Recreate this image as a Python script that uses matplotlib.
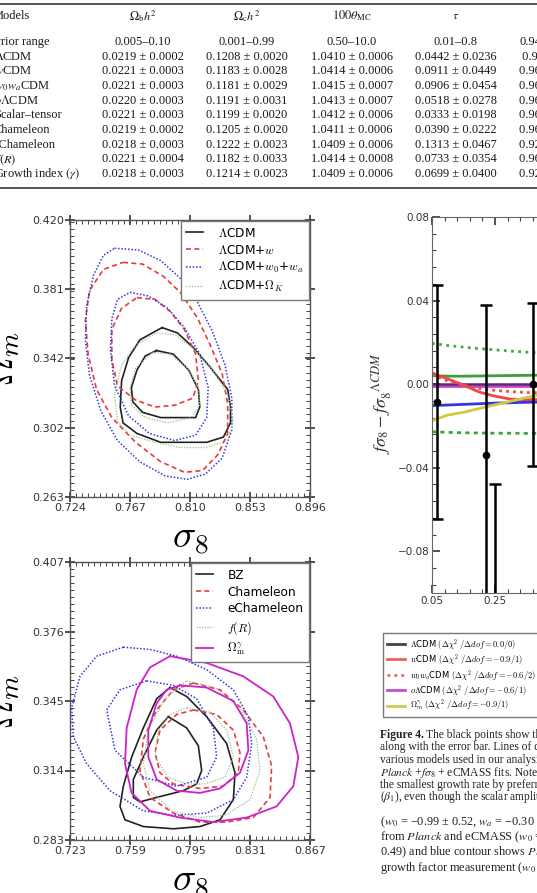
import numpy as np
import matplotlib
matplotlib.use("Agg")
import matplotlib.pyplot as plt
from matplotlib.lines import Line2D
from matplotlib.ticker import AutoMinorLocator, MultipleLocator

W, H = 537, 893
SERIF = "Liberation Serif"

# ---- table ----
table_header = ["Models", r"$\Omega_{\rm b}h^2$", r"$\Omega_{\rm c}h^2$",
                r"$100\theta_{\rm MC}$", r"$\tau$", r"$n_{\rm s}$"]
table_models = ["Prior range", r"$\Lambda$CDM", r"$w$CDM", r"$w_0w_a$CDM",
                r"$o\Lambda$CDM", "Scalar–tensor", "Chameleon", "eChameleon",
                r"$f(R)$", r"Growth index $(\gamma)$"]
col_omb = ["0.005–0.10", "0.0219 ± 0.0002", "0.0221 ± 0.0003", "0.0221 ± 0.0003",
           "0.0220 ± 0.0003", "0.0221 ± 0.0003", "0.0219 ± 0.0002", "0.0218 ± 0.0003",
           "0.0221 ± 0.0004", "0.0218 ± 0.0003"]
col_omc = ["0.001–0.99", "0.1208 ± 0.0020", "0.1183 ± 0.0028", "0.1181 ± 0.0029",
           "0.1191 ± 0.0031", "0.1199 ± 0.0020", "0.1205 ± 0.0020", "0.1222 ± 0.0023",
           "0.1182 ± 0.0033", "0.1214 ± 0.0023"]
col_theta = ["0.50–10.0", "1.0410 ± 0.0006", "1.0414 ± 0.0006", "1.0415 ± 0.0007",
             "1.0413 ± 0.0007", "1.0412 ± 0.0006", "1.0411 ± 0.0006", "1.0409 ± 0.0006",
             "1.0414 ± 0.0008", "1.0409 ± 0.0006"]
col_tau = ["0.01–0.8", "0.0442 ± 0.0236", "0.0911 ± 0.0449", "0.0906 ± 0.0454",
           "0.0518 ± 0.0278", "0.0333 ± 0.0198", "0.0390 ± 0.0222", "0.1313 ± 0.0467",
           "0.0733 ± 0.0354", "0.0699 ± 0.0400"]
col_ns = ["0.94–1.10", " 0.9650 ± 0.0050", "0.9662 ± 0.0071", "0.9660 ± 0.0072",
          "0.9612 ± 0.0075", "0.9620 ± 0.0046", "0.9615 ± 0.0047", "0.9290 ± 0.0110",
          "0.9660 ± 0.0080", "0.9260 ± 0.0100"]

# ---- top contour panel (sigma_8, Omega_m) ----
lcdm_out_s8 = [0.790, 0.801, 0.812, 0.824, 0.837, 0.839, 0.839, 0.834, 0.822, 0.808, 0.789, 0.772, 0.762, 0.760, 0.761, 0.766, 0.774, 0.783]
lcdm_out_om = [0.359, 0.356, 0.348, 0.337, 0.324, 0.314, 0.305, 0.297, 0.294, 0.294, 0.294, 0.299, 0.305, 0.314, 0.329, 0.342, 0.352, 0.356]
lcdm_in_s8 = [0.786, 0.798, 0.809, 0.816, 0.817, 0.814, 0.803, 0.789, 0.776, 0.769, 0.768, 0.772, 0.778]
lcdm_in_om = [0.346, 0.344, 0.335, 0.324, 0.314, 0.308, 0.308, 0.308, 0.311, 0.317, 0.325, 0.335, 0.343]
w_out_s8 = [0.762, 0.776, 0.791, 0.803, 0.815, 0.824, 0.833, 0.837, 0.837, 0.830, 0.819, 0.806, 0.789, 0.771, 0.754, 0.743, 0.737, 0.735, 0.738, 0.748]
w_out_om = [0.396, 0.395, 0.388, 0.379, 0.365, 0.350, 0.333, 0.316, 0.299, 0.287, 0.278, 0.277, 0.283, 0.294, 0.308, 0.324, 0.344, 0.363, 0.380, 0.392]
w_in_s8 = [0.772, 0.785, 0.796, 0.806, 0.814, 0.816, 0.812, 0.799, 0.785, 0.771, 0.758, 0.754, 0.754, 0.761]
w_in_om = [0.376, 0.375, 0.368, 0.358, 0.344, 0.329, 0.319, 0.315, 0.314, 0.318, 0.326, 0.341, 0.358, 0.370]
w0wa_out_s8 = [0.756, 0.773, 0.789, 0.803, 0.815, 0.826, 0.835, 0.840, 0.840, 0.833, 0.821, 0.808, 0.792, 0.774, 0.758, 0.746, 0.738, 0.735, 0.736, 0.741, 0.748]
w0wa_out_om = [0.404, 0.403, 0.397, 0.387, 0.374, 0.357, 0.338, 0.319, 0.301, 0.285, 0.276, 0.273, 0.275, 0.283, 0.295, 0.312, 0.332, 0.352, 0.372, 0.389, 0.400]
w0wa_in_s8 = [0.767, 0.780, 0.794, 0.806, 0.817, 0.823, 0.822, 0.814, 0.799, 0.781, 0.766, 0.756, 0.753, 0.754, 0.758]
w0wa_in_om = [0.379, 0.377, 0.370, 0.359, 0.344, 0.325, 0.308, 0.298, 0.295, 0.299, 0.309, 0.326, 0.346, 0.364, 0.375]
ok_out_s8 = [0.786, 0.799, 0.814, 0.827, 0.837, 0.841, 0.837, 0.821, 0.803, 0.785, 0.767, 0.758, 0.756, 0.761, 0.771]
ok_out_om = [0.356, 0.355, 0.346, 0.334, 0.321, 0.306, 0.295, 0.291, 0.291, 0.294, 0.298, 0.306, 0.321, 0.338, 0.349]
ok_in_s8 = [0.783, 0.796, 0.808, 0.816, 0.817, 0.811, 0.794, 0.778, 0.768, 0.767, 0.771]
ok_in_om = [0.345, 0.344, 0.336, 0.325, 0.315, 0.308, 0.305, 0.308, 0.315, 0.325, 0.336]

# ---- bottom contour panel ----
bz_out_s8 = [0.783, 0.793, 0.805, 0.817, 0.822, 0.821, 0.813, 0.801, 0.785, 0.767, 0.756, 0.753, 0.755, 0.760, 0.767, 0.775]
bz_out_om = [0.351, 0.347, 0.338, 0.326, 0.313, 0.301, 0.292, 0.289, 0.288, 0.289, 0.292, 0.298, 0.307, 0.320, 0.333, 0.346]
bz_in_s8 = [0.782, 0.793, 0.800, 0.802, 0.799, 0.791, 0.775, 0.765, 0.761, 0.761, 0.767, 0.775]
bz_in_om = [0.338, 0.333, 0.325, 0.314, 0.308, 0.305, 0.302, 0.300, 0.302, 0.310, 0.320, 0.332]
cham_out_s8 = [0.797, 0.813, 0.827, 0.839, 0.844, 0.843, 0.833, 0.817, 0.801, 0.785, 0.771, 0.765, 0.767, 0.775, 0.785]
cham_out_om = [0.353, 0.350, 0.341, 0.329, 0.316, 0.302, 0.293, 0.291, 0.291, 0.295, 0.302, 0.314, 0.328, 0.341, 0.350]
cham_in_s8 = [0.797, 0.811, 0.821, 0.825, 0.824, 0.815, 0.801, 0.785, 0.777, 0.774, 0.777, 0.787]
cham_in_om = [0.341, 0.339, 0.332, 0.322, 0.313, 0.307, 0.306, 0.308, 0.313, 0.322, 0.332, 0.339]
echam_out_s8 = [0.755, 0.771, 0.787, 0.805, 0.821, 0.830, 0.832, 0.829, 0.821, 0.805, 0.785, 0.767, 0.747, 0.733, 0.725, 0.724, 0.729, 0.739]
echam_out_om = [0.369, 0.368, 0.365, 0.359, 0.350, 0.338, 0.326, 0.311, 0.301, 0.295, 0.294, 0.296, 0.305, 0.317, 0.329, 0.342, 0.356, 0.365]
echam_in_s8 = [0.769, 0.785, 0.799, 0.809, 0.811, 0.805, 0.787, 0.767, 0.750, 0.745, 0.753]
echam_in_om = [0.354, 0.352, 0.346, 0.333, 0.320, 0.311, 0.307, 0.311, 0.323, 0.341, 0.350]
fr_out_s8 = [0.793, 0.810, 0.825, 0.835, 0.837, 0.831, 0.816, 0.801, 0.784, 0.771, 0.767, 0.770, 0.780]
fr_out_om = [0.354, 0.351, 0.342, 0.328, 0.314, 0.301, 0.294, 0.293, 0.296, 0.305, 0.317, 0.332, 0.346]
fr_in_s8 = [0.793, 0.807, 0.817, 0.821, 0.816, 0.804, 0.793, 0.782, 0.774, 0.776, 0.783]
fr_in_om = [0.342, 0.340, 0.332, 0.320, 0.311, 0.308, 0.308, 0.311, 0.320, 0.332, 0.339]
gam_out_s8 = [0.783, 0.805, 0.827, 0.845, 0.855, 0.860, 0.857, 0.847, 0.829, 0.809, 0.789, 0.771, 0.760, 0.756, 0.757, 0.763, 0.771]
gam_out_om = [0.365, 0.362, 0.356, 0.347, 0.335, 0.320, 0.307, 0.298, 0.293, 0.291, 0.293, 0.296, 0.304, 0.317, 0.333, 0.350, 0.360]
gam_in_s8 = [0.789, 0.805, 0.821, 0.829, 0.830, 0.825, 0.813, 0.801, 0.787, 0.775, 0.770, 0.770, 0.775, 0.781]
gam_in_om = [0.352, 0.351, 0.345, 0.335, 0.323, 0.313, 0.306, 0.304, 0.305, 0.310, 0.320, 0.332, 0.344, 0.350]

top_xticks = [0.724, 0.767, 0.810, 0.853, 0.896]
top_yticks = [0.263, 0.302, 0.342, 0.381, 0.420]
bot_xticks = [0.723, 0.759, 0.795, 0.831, 0.867]
bot_yticks = [0.283, 0.314, 0.345, 0.376, 0.407]

# ---- growth-rate panel ----
z = [0.05, 0.10, 0.15, 0.20, 0.25, 0.30, 0.35, 0.40, 0.45]
d_green_dot = [0.0195, 0.0185, 0.0177, 0.0170, 0.0164, 0.0158, 0.0153, 0.0149, 0.0145]
d_green = [0.0040, 0.0038, 0.0038, 0.0039, 0.0040, 0.0041, 0.0042, 0.0043, 0.0044]
d_lcdm = [0.0, 0.0, 0.0, 0.0, 0.0, 0.0, 0.0, 0.0, 0.0]
d_olcdm = [-0.0008, -0.0008, -0.0008, -0.0008, -0.0008, -0.0008, -0.0008, -0.0008, -0.0008]
d_wcdm = [0.0053, 0.0025, -0.0005, -0.0038, -0.0058, -0.0072, -0.0075, -0.0073, -0.0070]
d_w0wa = [0.0045, 0.0015, -0.0005, -0.0021, -0.0030, -0.0036, -0.0040, -0.0042, -0.0043]
d_blue = [-0.0103, -0.0100, -0.0097, -0.0094, -0.0091, -0.0089, -0.0087, -0.0086, -0.0085]
d_gamma = [-0.0175, -0.0148, -0.0135, -0.0117, -0.0099, -0.0082, -0.0064, -0.0048, -0.0036]
d_green_dash = [-0.0228, -0.0231, -0.0233, -0.0234, -0.0235, -0.0235, -0.0236, -0.0236, -0.0236]
obs_z = [0.067, 0.22, 0.25, 0.37]
obs_d = [-0.0085, -0.034, -0.107, 0.0]
obs_err = [0.056, 0.072, 0.059, 0.039]

legend_labels = [r"$\Lambda$CDM $(\Delta\chi^2\ /\Delta dof=0.0/0)$",
                 r"$w$CDM $(\Delta\chi^2\ /\Delta dof=-0.9/1)$",
                 r"$w_0w_a$CDM $(\Delta\chi^2\ /\Delta dof=-0.6/2)$",
                 r"$o\Lambda$CDM $(\Delta\chi^2\ /\Delta dof=-0.6/1)$",
                 r"$\Omega_m^\gamma$ $(\Delta\chi^2\ /\Delta dof=-0.9/1)$"]

caption_lines = [
    "The black points show the observed growth rate data",
    "along with the error bar. Lines of different colours show the",
    "various models used in our analysis, obtained from the joint",
    r"$\mathit{Planck}$ +$f\sigma_8$ + eCMASS fits. Note that the model with",
    "the smallest growth rate by preferring a smaller value of",
    r"($\beta_1$), even though the scalar amplitude is larger.",
]
text_lines = [
    r"($w_0$ = −0.99 ± 0.52, $w_a$ = −0.30 ± 1.50) and",
    r"from $\mathit{Planck}$ and eCMASS ($w_0$ = −1.02 ±",
    r"0.49) and blue contour shows $\mathit{Planck}$ + eCMASS +",
    r"growth factor measurement ($w_0$ = −0.98 ± 0.21)",
]


def px_axes(fig, left, top, right, bottom):
    return fig.add_axes([left / W, 1 - bottom / H, (right - left) / W, (bottom - top) / H])


def closed(a):
    return list(a) + [a[0]]


def draw_table(fig):
    y_head = 16
    row_y = [42 + i * 14.67 for i in range(len(table_models))]
    centers = [143, 247, 352, 456]
    kw = dict(fontsize=8.9, family=SERIF, math_fontfamily="stix", color="#1a1a1a",
              va="center")
    fig.text(-7 / W, 1 - y_head / H, table_header[0], ha="left", **kw)
    for cx, head in zip(centers, table_header[1:5]):
        fig.text(cx / W, 1 - y_head / H, head, ha="center", **kw)
    fig.text(545 / W, 1 - y_head / H, table_header[5], ha="left", **kw)
    cols = [col_omb, col_omc, col_theta, col_tau]
    for i, yy in enumerate(row_y):
        fig.text(-6 / W, 1 - yy / H, table_models[i], ha="left", **kw)
        for cx, col in zip(centers, cols):
            fig.text(cx / W, 1 - yy / H, col[i], ha="center", **kw)
        fig.text(519 / W, 1 - yy / H, col_ns[i], ha="left", **kw)
    for yy in (4, 188):
        fig.add_artist(Line2D([0, 1], [1 - yy / H, 1 - yy / H], transform=fig.transFigure,
                              color="#555", lw=1.4))


def style_contour_axes(ax, xt, yt):
    ax.set_xlim(xt[0], xt[-1])
    ax.set_ylim(yt[0], yt[-1])
    ax.set_xticks(xt)
    ax.set_xticklabels(["%.3f" % v for v in xt])
    ax.set_yticks(yt)
    ax.set_yticklabels(["%.3f" % v for v in yt])
    ax.xaxis.set_minor_locator(AutoMinorLocator(10))
    ax.yaxis.set_minor_locator(AutoMinorLocator(10))
    ax.tick_params(which="major", direction="inout", length=7, width=1.2, top=True,
                   right=True, labelsize=8, pad=0.5, colors="#333")
    ax.tick_params(which="minor", direction="in", length=3, width=0.7, top=True, right=True,
                   colors="#444")
    for sp in ax.spines.values():
        sp.set_color("#555")
        sp.set_linewidth(1.0)
    ax.set_xlabel(r"$\sigma_8$", fontsize=28, labelpad=0)
    ax.set_ylabel(r"$\Omega_m$", fontsize=28)
    ax.xaxis.set_label_coords(0.5, -0.08)
    ax.yaxis.set_label_coords(-0.2, 0.5)


def contour_legend(ax, handles):
    ax.legend(handles=handles, loc="upper right", fontsize=8.7, frameon=True, fancybox=False,
              edgecolor="#777", framealpha=1, borderaxespad=0.1, handlelength=1.4,
              handletextpad=1.2, labelspacing=0.32, borderpad=0.45)


def draw_top_contours(fig):
    ax = px_axes(fig, 70, 220, 310, 497)
    styles = [
        (lcdm_out_s8, lcdm_out_om, lcdm_in_s8, lcdm_in_om, r"$\Lambda$CDM",
         dict(color="#222222", lw=1.2, ls="-")),
        (w_out_s8, w_out_om, w_in_s8, w_in_om, r"$\Lambda$CDM+$w$",
         dict(color="#e83a3a", lw=1.2, ls=(0, (3, 2)))),
        (w0wa_out_s8, w0wa_out_om, w0wa_in_s8, w0wa_in_om, r"$\Lambda$CDM+$w_0$+$w_a$",
         dict(color="#3434e0", lw=1.1, ls=(0, (1, 1.2)))),
        (ok_out_s8, ok_out_om, ok_in_s8, ok_in_om, r"$\Lambda$CDM+$\Omega_K$",
         dict(color="#8cc48c", lw=0.9, ls=(0, (1, 1.2)))),
    ]
    handles = []
    for xo, yo, xi, yi, lab, st in styles:
        ax.plot(closed(xo), closed(yo), **st)
        ax.plot(closed(xi), closed(yi), **st)
        handles.append(Line2D([], [], label=lab, **st))
    contour_legend(ax, handles)
    style_contour_axes(ax, top_xticks, top_yticks)


def draw_bottom_contours(fig):
    ax = px_axes(fig, 70, 562, 310, 840)
    styles = [
        (bz_out_s8, bz_out_om, bz_in_s8, bz_in_om, "BZ",
         dict(color="#222222", lw=1.2, ls="-")),
        (cham_out_s8, cham_out_om, cham_in_s8, cham_in_om, "Chameleon",
         dict(color="#e83a3a", lw=1.2, ls=(0, (3, 2)))),
        (echam_out_s8, echam_out_om, echam_in_s8, echam_in_om, "eChameleon",
         dict(color="#3434e0", lw=1.1, ls=(0, (1, 1.2)))),
        (fr_out_s8, fr_out_om, fr_in_s8, fr_in_om, r"$f(R)$",
         dict(color="#8cc48c", lw=0.9, ls=(0, (1, 1.2)))),
        (gam_out_s8, gam_out_om, gam_in_s8, gam_in_om, r"$\Omega_{\rm m}^{\gamma}$",
         dict(color="#cc22cc", lw=1.3, ls="-")),
    ]
    handles = []
    for xo, yo, xi, yi, lab, st in styles:
        ax.plot(closed(xo), closed(yo), **st)
        ax.plot(closed(xi), closed(yi), **st)
        handles.append(Line2D([], [], label=lab, **st))
    contour_legend(ax, handles)
    style_contour_axes(ax, bot_xticks, bot_yticks)


def draw_growth(fig):
    ax = px_axes(fig, 432, 217, 432 + 0.8 / 0.2 * 63, 593)
    ax.plot(z, d_green_dot, color="#46a846", lw=2, ls=(0, (1, 1.6)))
    ax.plot(z, d_green, color="#3c9e3c", lw=2)
    ax.plot(z, d_olcdm, color="#cc44cc", lw=2)
    ax.plot(z, d_lcdm, color="#5a2a7a", lw=1.8)
    ax.plot(z, d_wcdm, color="#f04848", lw=2)
    ax.plot(z, d_w0wa, color="#f04848", lw=2, ls=(0, (1, 1.5)))
    ax.plot(z, d_blue, color="#3434e0", lw=2)
    ax.plot(z, d_gamma, color="#cccc3c", lw=2)
    ax.plot(z, d_green_dash, color="#3ca83c", lw=2, ls=(0, (1.5, 1.5)))
    ax.errorbar(obs_z, obs_d, yerr=obs_err, fmt="o", color="black", ms=4.5, lw=1.8,
                capsize=4.5, capthick=1.8)
    ax.set_xlim(0.05, 0.85)
    ax.set_ylim(-0.10, 0.08)
    ax.set_xticks([0.05, 0.25, 0.45, 0.65, 0.85])
    ax.set_xticklabels(["0.05", "0.25", "0.45", "0.65", "0.85"])
    ax.set_yticks([-0.08, -0.04, 0.0, 0.04, 0.08])
    ax.set_yticklabels(["\u22120.08", "\u22120.04", "0.00", "0.04", "0.08"])
    ax.xaxis.set_minor_locator(MultipleLocator(0.04, offset=0.05))
    ax.yaxis.set_minor_locator(MultipleLocator(0.008))
    ax.tick_params(which="major", direction="in", length=6, width=1.2, top=True,
                   labelsize=7.5, pad=2, colors="#333")
    ax.tick_params(which="minor", direction="in", length=3, width=0.8, top=True,
                   colors="#444")
    for sp in ax.spines.values():
        sp.set_color("#666")
    ax.set_ylabel(r"$f\sigma_8 - f\sigma_8^{\ \ \Lambda CDM}$", fontsize=13,
                  math_fontfamily="stix", color="#333")
    ax.yaxis.set_label_coords(-0.15, 0.505)

    colors = ["#444444", "#f06060", "#f06060", "#c050d0", "#cccc55"]
    styles = ["-", "-", (0, (1, 1.5)), "-", "-"]
    handles = [Line2D([], [], color=c, ls=s, lw=2) for c, s in zip(colors, styles)]
    fig.legend(handles, legend_labels, loc="upper left", bbox_to_anchor=(383 / W, 1 - 633 / H),
               bbox_transform=fig.transFigure, fontsize=6, frameon=True, fancybox=False,
               edgecolor="#777", framealpha=1, borderaxespad=0, handlelength=2.2,
               handletextpad=0.6, labelspacing=0.05, borderpad=0.45)


def draw_caption(fig):
    kw = dict(fontsize=8.3, family=SERIF, math_fontfamily="stix", color="#222", va="center")
    fig.text(380 / W, 1 - 735 / H, "Figure 4.", fontweight="bold", ha="left", **kw)
    for i, line in enumerate(caption_lines):
        x = 426 if i == 0 else 380
        fig.text(x / W, 1 - (735 + i * 12.4) / H, line, ha="left", **kw)
    for i, line in enumerate(text_lines):
        fig.text(380 / W, 1 - (822 + i * 15.2) / H, line, ha="left", fontsize=8.8,
                 family=SERIF, math_fontfamily="stix", color="#222", va="center")


def main():
    plt.rcParams["font.family"] = ["DejaVu Sans"]
    plt.rcParams["mathtext.fontset"] = "cm"
    fig = plt.figure(figsize=(W / 100, H / 100), dpi=100)
    draw_table(fig)
    draw_top_contours(fig)
    draw_bottom_contours(fig)
    draw_growth(fig)
    draw_caption(fig)
    fig.savefig("out.png", dpi=100)


if __name__ == "__main__":
    main()
